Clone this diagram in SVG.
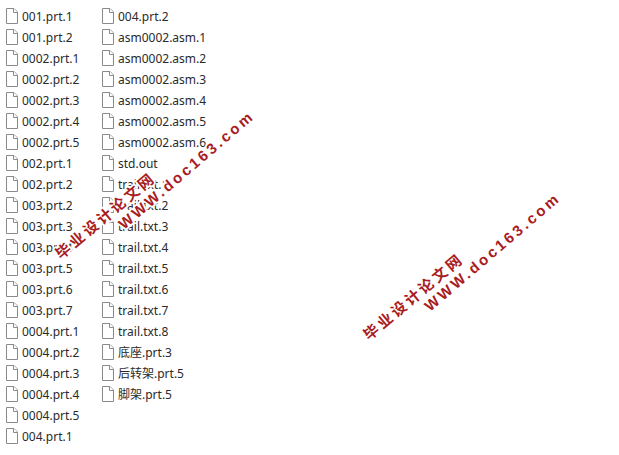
<svg xmlns="http://www.w3.org/2000/svg" width="619" height="455" viewBox="0 0 619 455">
<style>
.f{font:12px "Noto Sans","Noto Sans CJK SC",sans-serif;fill:#2a2a2a}
.ic{fill:#fff;stroke:#8a8a8a;stroke-width:1}
.wm{font-family:"Noto Sans CJK SC","Noto Sans",sans-serif;font-weight:700;fill:#a81c22;stroke:#fff;stroke-width:3.500;paint-order:stroke;stroke-linejoin:round}
.a{font-size:15px;letter-spacing:2.900px}
.b{font-family:"Liberation Sans",sans-serif;font-size:15px;letter-spacing:2.900px}
</style>
<defs><g id="i"><path class="ic" d="M6.500 8.500H14L17.500 12V23.500H6.500Z"/><path class="ic" d="M13.500 8.500V12.500H17.500" fill="none"/></g></defs>
<rect width="619" height="455" fill="#fff"/>
<g id="column-1">
<use href="#i" y="0"/><text class="f" x="22" y="21">001.prt.1</text>
<use href="#i" y="21"/><text class="f" x="22" y="42">001.prt.2</text>
<use href="#i" y="42"/><text class="f" x="22" y="63">0002.prt.1</text>
<use href="#i" y="63"/><text class="f" x="22" y="84">0002.prt.2</text>
<use href="#i" y="84"/><text class="f" x="22" y="105">0002.prt.3</text>
<use href="#i" y="105"/><text class="f" x="22" y="126">0002.prt.4</text>
<use href="#i" y="126"/><text class="f" x="22" y="147">0002.prt.5</text>
<use href="#i" y="147"/><text class="f" x="22" y="168">002.prt.1</text>
<use href="#i" y="168"/><text class="f" x="22" y="189">002.prt.2</text>
<use href="#i" y="189"/><text class="f" x="22" y="210">003.prt.2</text>
<use href="#i" y="210"/><text class="f" x="22" y="231">003.prt.3</text>
<use href="#i" y="231"/><text class="f" x="22" y="252">003.prt.4</text>
<use href="#i" y="252"/><text class="f" x="22" y="273">003.prt.5</text>
<use href="#i" y="273"/><text class="f" x="22" y="294">003.prt.6</text>
<use href="#i" y="294"/><text class="f" x="22" y="315">003.prt.7</text>
<use href="#i" y="315"/><text class="f" x="22" y="336">0004.prt.1</text>
<use href="#i" y="336"/><text class="f" x="22" y="357">0004.prt.2</text>
<use href="#i" y="357"/><text class="f" x="22" y="378">0004.prt.3</text>
<use href="#i" y="378"/><text class="f" x="22" y="399">0004.prt.4</text>
<use href="#i" y="399"/><text class="f" x="22" y="420">0004.prt.5</text>
<use href="#i" y="420"/><text class="f" x="22" y="441">004.prt.1</text>
</g>
<g id="column-2">
<use href="#i" x="96" y="0"/><text class="f" x="118" y="21">004.prt.2</text>
<use href="#i" x="96" y="21"/><text class="f" x="118" y="42">asm0002.asm.1</text>
<use href="#i" x="96" y="42"/><text class="f" x="118" y="63">asm0002.asm.2</text>
<use href="#i" x="96" y="63"/><text class="f" x="118" y="84">asm0002.asm.3</text>
<use href="#i" x="96" y="84"/><text class="f" x="118" y="105">asm0002.asm.4</text>
<use href="#i" x="96" y="105"/><text class="f" x="118" y="126">asm0002.asm.5</text>
<use href="#i" x="96" y="126"/><text class="f" x="118" y="147">asm0002.asm.6</text>
<use href="#i" x="96" y="147"/><text class="f" x="118" y="168">std.out</text>
<use href="#i" x="96" y="168"/><text class="f" x="118" y="189">trail.txt.1</text>
<use href="#i" x="96" y="189"/><text class="f" x="118" y="210">trail.txt.2</text>
<use href="#i" x="96" y="210"/><text class="f" x="118" y="231">trail.txt.3</text>
<use href="#i" x="96" y="231"/><text class="f" x="118" y="252">trail.txt.4</text>
<use href="#i" x="96" y="252"/><text class="f" x="118" y="273">trail.txt.5</text>
<use href="#i" x="96" y="273"/><text class="f" x="118" y="294">trail.txt.6</text>
<use href="#i" x="96" y="294"/><text class="f" x="118" y="315">trail.txt.7</text>
<use href="#i" x="96" y="315"/><text class="f" x="118" y="336">trail.txt.8</text>
<use href="#i" x="96" y="336"/><text class="f" x="118" y="357">底座.prt.3</text>
<use href="#i" x="96" y="357"/><text class="f" x="118" y="378">后转架.prt.5</text>
<use href="#i" x="96" y="378"/><text class="f" x="118" y="399">脚架.prt.5</text>
</g>
<g id="watermark-1">
<text class="wm a" transform="translate(61 260) rotate(-40)">毕业设计论文网</text>
<text class="wm b" transform="translate(124 230) rotate(-40.500)">WWW.doc163.com</text>
</g>
<g id="watermark-2">
<text class="wm a" transform="translate(369 341) rotate(-40)">毕业设计论文网</text>
<text class="wm b" transform="translate(430 312) rotate(-40.500)">WWW.doc163.com</text>
</g>
</svg>
